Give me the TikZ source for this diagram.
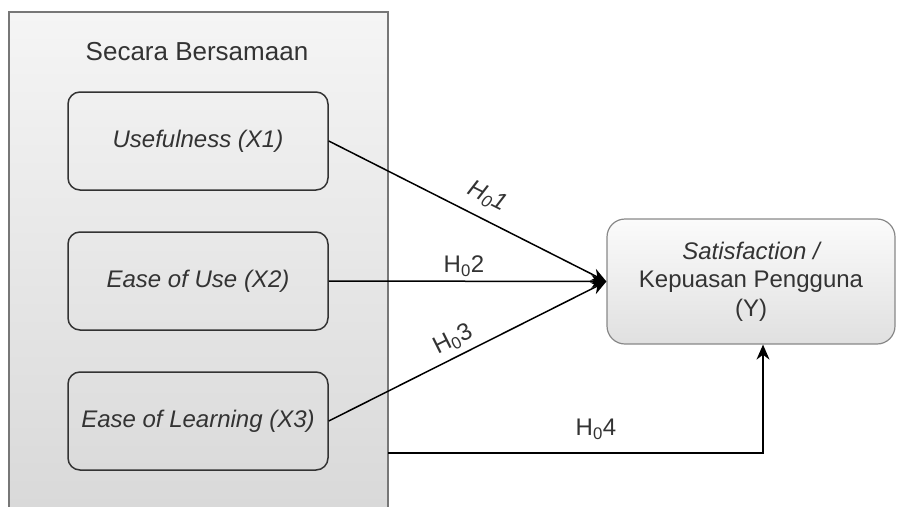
\documentclass[tikz,border=0pt]{standalone}
\usepackage{fontspec}
\setmainfont{Liberation Sans}
\usetikzlibrary{arrows.meta}
\definecolor{txtgray}{HTML}{333333}
\definecolor{boxedge}{HTML}{333333}
\definecolor{contedge}{HTML}{777777}
\definecolor{yedge}{HTML}{888888}
\definecolor{contTop}{HTML}{F5F5F5}
\definecolor{contBot}{HTML}{D9D9D9}
\definecolor{yTop}{HTML}{FBFBFB}
\definecolor{yBot}{HTML}{E0E0E0}
\begin{document}
\begin{tikzpicture}[x=1pt,y=-1pt,
  txt/.style={font=\fontsize{24}{28.5}\selectfont, text=txtgray},
  varbox/.style={draw=boxedge, line width=1.5pt, rounded corners=12pt, minimum width=260pt, minimum height=98pt, txt},
  ybox/.style={draw=yedge, line width=1.2pt, rounded corners=18pt, minimum width=288pt, minimum height=125pt, top color=yTop, bottom color=yBot, align=center, txt},
  arr/.style={line width=1.5pt, -{Stealth[length=15pt,width=13pt]}},
  lbl/.style={txt, inner sep=0pt}]
\useasboundingbox (0,0) rectangle (904,506);
\fill[top color=contTop, bottom color=contBot] (9,12) rectangle (388,507);
\draw[contedge, line width=1.2pt] (9,510) -- (9,12) -- (388,12) -- (388,510);
\node[txt, font=\fontsize{26}{30}\selectfont] (title) at (197,52) {Secara Bersamaan};
\node[varbox] (x1) at (198,141) {\itshape Usefulness (X1)};
\node[varbox] (x2) at (198,281) {\itshape Ease of Use (X2)};
\node[varbox] (x3) at (198,421) {\itshape Ease of Learning (X3)};
\node[ybox] (y) at (751,281.5) {\itshape Satisfaction /\\Kepuasan Pengguna\\(Y)};
\draw[arr] (x1.east) -- (y.west);
\draw[arr] (x2.east) -- (y.west);
\draw[arr] (x3.east) -- (y.west);
\coordinate (h4start) at (388,453);
\coordinate (h4turn) at (763,453);
\draw[arr] (h4start) -- (h4turn) -- (h4turn |- y.south);
\node[lbl, rotate=-26.6] (l1) at (487,197) {\itshape H\textsubscript{0}1};
\node[lbl] (l2) at (464,266) {H\textsubscript{0}2};
\node[lbl, rotate=26.6] (l3) at (453,340) {H\textsubscript{0}3};
\node[lbl] (l4) at (596,429) {H\textsubscript{0}4};
\end{tikzpicture}
\end{document}
